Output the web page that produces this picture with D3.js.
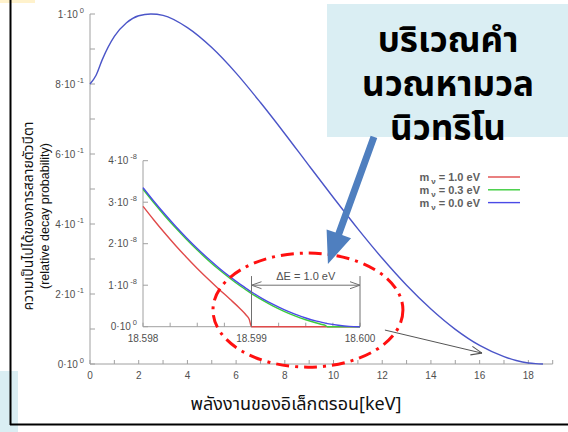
<!DOCTYPE html>
<html>
<head>
<meta charset="utf-8">
<script src="https://cdn.jsdelivr.net/npm/d3@7"></script>
<style>
  html, body { margin: 0; padding: 0; background: #fff; }
  svg { display: block; }
  .thai { font-family: 'Noto Sans Thai', 'Noto Sans Thai UI', 'Leelawadee UI', Tahoma, 'Noto Sans', sans-serif; }
  .num { font-family: 'Liberation Sans', Arial, sans-serif; }
</style>
</head>
<body>
<svg id="chart" width="568" height="432"></svg>
<script>
// ---- Tritium beta spectrum (relative decay probability vs electron energy) ----
const energyKeV = [0, 0.25, 0.5, 1, 1.5, 2, 2.5, 3, 4, 5, 6, 7, 8, 9, 10, 11, 12, 13, 14, 15, 16, 17, 17.5, 18, 18.3, 18.6];
const decayProb = [0.800, 0.825, 0.869, 0.936, 0.975, 0.995, 1.000, 0.996, 0.961, 0.904, 0.831, 0.747, 0.658, 0.566, 0.475, 0.386, 0.302, 0.225, 0.157, 0.099, 0.053, 0.021, 0.010, 0.003, 0.001, 0];

const xTicks = [0, 2, 4, 6, 8, 10, 12, 14, 16, 18];
const yTicks = [0, 0.2, 0.4, 0.6, 0.8, 1.0];
const yTickMantissa = ["0", "2", "4", "6", "8", "1"];
const yTickExponent = ["0", "-1", "-1", "-1", "-1", "0"];

// ---- Endpoint region (inset), rate in units of 1e-8 ----
const insetEnergyKeV = [18.5980, 18.5981, 18.5982, 18.5983, 18.5984, 18.5985, 18.5986, 18.5987, 18.5988, 18.5989, 18.59895, 18.59898,
  18.5990, 18.5991, 18.5992, 18.5993, 18.5994, 18.5995, 18.5996, 18.59965, 18.59968, 18.5997, 18.5998, 18.5999, 18.6000];
const rateM00 = [3.350, 3.023, 2.714, 2.420, 2.144, 1.884, 1.642, 1.415, 1.206, 1.013, 0.923, 0.871, 0.838, 0.678, 0.536, 0.410, 0.302, 0.209, 0.134, 0.103, 0.086, 0.075, 0.034, 0.008, 0];
const rateM03 = [3.312, 2.986, 2.675, 2.382, 2.106, 1.846, 1.603, 1.377, 1.168, 0.975, 0.885, 0.833, 0.799, 0.640, 0.497, 0.371, 0.261, 0.168, 0.089, 0.053, 0.030, 0, 0, 0, 0];
const rateM10 = [2.901, 2.571, 2.256, 1.957, 1.674, 1.404, 1.149, 0.904, 0.667, 0.422, 0.282, 0.172, 0, 0, 0, 0, 0, 0, 0, 0, 0, 0, 0, 0, 0];

const insetXTicks = [18.598, 18.599, 18.600];
const insetXLabels = ["18.598", "18.599", "18.600"];
const insetYTicks = [0, 1, 2, 3, 4];
const insetYMantissa = ["0", "1", "2", "3", "4"];
const insetYExponent = ["0", "-8", "-8", "-8", "-8"];

const seriesNames = ["1.0", "0.3", "0.0"];
const seriesColors = ["#e04a4a", "#3ccc3c", "#4a4ae6"];

const svg = d3.select("#chart");
const grey = "#a0a0a0";
const labelGrey = "#505050";

// background decorations
svg.append("rect").attr("x", 0).attr("y", 0).attr("width", 35).attr("height", 3).attr("fill", "#fff2cc");
svg.append("rect").attr("x", 0).attr("y", 371).attr("width", 18).attr("height", 61).attr("fill", "#daeef3");

// ---- main scales ----
const x = d3.scaleLinear().domain([0, 19]).range([90, 552.7]);
const y = d3.scaleLinear().domain([0, 1]).range([364, 14]);

// y axis (ticks pointing inward)
const gy = svg.append("g").attr("transform", `translate(${x(0)},0)`);
gy.append("line").attr("y1", y(0)).attr("y2", y(1)).attr("stroke", grey).attr("stroke-width", 1);
gy.selectAll("line.tk").data(d3.range(0, 1.0001, 0.1)).join("line").attr("class", "tk")
  .attr("x1", 0).attr("x2", 5).attr("y1", d => y(d)).attr("y2", d => y(d))
  .attr("stroke", grey);
const yl = svg.append("g").attr("class", "num");
yTicks.forEach((v, i) => {
  const t = yl.append("text").attr("x", 84).attr("y", y(v) + 3.5)
    .attr("text-anchor", "end").attr("font-size", 10).attr("fill", labelGrey);
  t.append("tspan").text(yTickMantissa[i] + "\u00b710");
  t.append("tspan").attr("dy", -5).attr("dx", 2).attr("font-size", 7.5).text(yTickExponent[i]);
});

// x axis (ticks pointing up)
const gx = svg.append("g");
gx.append("line").attr("x1", x(0)).attr("x2", x(19)).attr("y1", y(0)).attr("y2", y(0)).attr("stroke", grey);
gx.selectAll("line.tk").data(d3.range(0, 20, 1)).join("line").attr("class", "tk")
  .attr("x1", d => x(d)).attr("x2", d => x(d)).attr("y1", y(0)).attr("y2", y(0) - 4).attr("stroke", grey);
gx.selectAll("text").data(xTicks).join("text").attr("class", "num")
  .attr("x", d => x(d)).attr("y", y(0) + 15).attr("text-anchor", "middle")
  .attr("font-size", 10).attr("fill", labelGrey).text(d => d);

// main spectrum
svg.append("path").datum(energyKeV.map((e, i) => [e, decayProb[i]]))
  .attr("fill", "none").attr("stroke", "#4b55c8").attr("stroke-width", 1.4)
  .attr("d", d3.line().x(d => x(d[0])).y(d => y(d[1])).curve(d3.curveMonotoneX));

// ---- inset: endpoint region ----
const xi = d3.scaleLinear().domain([18.598, 18.600]).range([143, 360]);
const yi = d3.scaleLinear().domain([0, 4]).range([326.7, 160.7]);

const gi = svg.append("g");
gi.append("line").attr("x1", xi(18.598)).attr("x2", xi(18.598)).attr("y1", yi(0)).attr("y2", yi(4)).attr("stroke", grey);
gi.append("line").attr("x1", xi(18.598)).attr("x2", xi(18.600)).attr("y1", yi(0)).attr("y2", yi(0)).attr("stroke", grey);
gi.selectAll("line.ty").data(insetYTicks).join("line").attr("class", "ty")
  .attr("x1", xi(18.598)).attr("x2", xi(18.598) + 5).attr("y1", d => yi(d)).attr("y2", d => yi(d)).attr("stroke", grey);
gi.selectAll("line.tx").data(d3.range(0, 9).map(k => 18.598 + k * 0.00025)).join("line").attr("class", "tx")
  .attr("x1", d => xi(d)).attr("x2", d => xi(d)).attr("y1", yi(0)).attr("y2", yi(0) - 4).attr("stroke", grey);
insetYTicks.forEach((v, i) => {
  const t = gi.append("text").attr("class", "num").attr("x", 137).attr("y", yi(v) + 3.5)
    .attr("text-anchor", "end").attr("font-size", 10).attr("fill", labelGrey);
  t.append("tspan").text(insetYMantissa[i] + "\u00b710");
  t.append("tspan").attr("dy", -5).attr("dx", 2).attr("font-size", 7.5).text(insetYExponent[i]);
});
gi.selectAll("text.xl").data(insetXTicks).join("text").attr("class", "num xl")
  .attr("x", d => xi(d)).attr("y", yi(0) + 15).attr("text-anchor", "middle")
  .attr("font-size", 10).attr("fill", labelGrey).text((d, i) => insetXLabels[i]);

const insetLine = d3.line().x(d => xi(d[0])).y(d => yi(d[1])).curve(d3.curveMonotoneX);
[rateM10, rateM03, rateM00].forEach((rates, s) => {
  gi.append("path").datum(insetEnergyKeV.map((e, i) => [e, rates[i]]))
    .attr("fill", "none").attr("stroke", seriesColors[s]).attr("stroke-width", 1.4)
    .attr("d", insetLine);
});

// ΔE marker
const dm = svg.append("g");
const defs = svg.append("defs");
defs.append("marker").attr("id", "chev").attr("viewBox", "0 0 10 10").attr("refX", 10).attr("refY", 5)
  .attr("markerWidth", 10).attr("markerHeight", 10).attr("orient", "auto-start-reverse")
  .attr("markerUnits", "userSpaceOnUse")
  .append("path").attr("d", "M0,1.5 L10,5 L0,8.5").attr("fill", "none").attr("stroke", "#707070").attr("stroke-width", 1);
[18.599, 18.600].forEach(e => {
  dm.append("line").attr("x1", xi(e)).attr("x2", xi(e)).attr("y1", yi(0)).attr("y2", yi(1.22))
    .attr("stroke", "#707070").attr("stroke-width", 1);
});
dm.append("line").attr("x1", xi(18.599)).attr("x2", xi(18.600)).attr("y1", yi(1.0)).attr("y2", yi(1.0))
  .attr("stroke", "#707070").attr("stroke-width", 1)
  .attr("marker-start", "url(#chev)").attr("marker-end", "url(#chev)");
dm.append("text").attr("class", "num").attr("x", (xi(18.599) + xi(18.600)) / 2).attr("y", yi(1.12))
  .attr("text-anchor", "middle").attr("font-size", 11).attr("fill", labelGrey).text("\u0394E = 1.0 eV");

// legend
const lg = svg.append("g").attr("class", "num");
seriesNames.forEach((nm, i) => {
  const yy = 177 + i * 12.8;
  const t = lg.append("text").attr("x", 480).attr("y", yy + 4).attr("text-anchor", "end")
    .attr("font-size", 11).attr("font-weight", "bold").attr("fill", "#606060");
  t.append("tspan").text("m");
  t.append("tspan").attr("dy", 3).attr("dx", 2).attr("font-size", 8).text("\u03bd");
  t.append("tspan").attr("dy", -3).text(" = " + nm + " eV");
  lg.append("line").attr("x1", 488).attr("x2", 520).attr("y1", yy).attr("y2", yy)
    .attr("stroke", seriesColors[i]).attr("stroke-width", 1.4);
});

// red dash-dot ellipse around the endpoint
svg.append("ellipse").attr("cx", x(8.95)).attr("cy", y(0.154))
  .attr("rx", x(3.9) - x(0)).attr("ry", y(0) - y(0.163))
  .attr("fill", "none").attr("stroke", "#ff1010").attr("stroke-width", 3)
  .attr("stroke-dasharray", "13 6 3 6");

// grey pointer arrow
defs.append("marker").attr("id", "chev2").attr("viewBox", "0 0 10 10").attr("refX", 10).attr("refY", 5)
  .attr("markerWidth", 11).attr("markerHeight", 11).attr("orient", "auto")
  .attr("markerUnits", "userSpaceOnUse")
  .append("path").attr("d", "M0,1 L10,5 L0,9").attr("fill", "none").attr("stroke", "#555").attr("stroke-width", 1);
svg.append("line").attr("x1", x(12.11)).attr("y1", y(0.097)).attr("x2", x(16.1)).attr("y2", y(0.031))
  .attr("stroke", "#555").attr("stroke-width", 1).attr("marker-end", "url(#chev2)");

// callout box
svg.append("rect").attr("x", 327).attr("y", 4).attr("width", 241).attr("height", 133).attr("fill", "#daeef3");
const callout = ["บริเวณคำ", "นวณหามวล", "นิวทริโน"];
svg.selectAll("text.co").data(callout).join("text").attr("class", "thai co")
  .attr("x", 448).attr("y", (d, i) => 52 + i * 44).attr("text-anchor", "middle")
  .attr("font-size", 35).attr("font-weight", "bold").attr("fill", "#000").text(d => d);

// blue callout arrow
{
  const tail = [x(11.66), y(0.649)], tip = [x(9.77), y(0.286)];
  const dx = tip[0] - tail[0], dy = tip[1] - tail[1], L = Math.hypot(dx, dy);
  const ux = dx / L, uy = dy / L, px = -uy, py = ux;
  const headL = 32, headW = 13, shaftW = 3.5;
  const b = [tip[0] - ux * headL, tip[1] - uy * headL];
  const pts = [
    [tail[0] + px * shaftW, tail[1] + py * shaftW],
    [b[0] + px * shaftW, b[1] + py * shaftW],
    [b[0] + px * headW, b[1] + py * headW],
    tip,
    [b[0] - px * headW, b[1] - py * headW],
    [b[0] - px * shaftW, b[1] - py * shaftW],
    [tail[0] - px * shaftW, tail[1] - py * shaftW]
  ];
  svg.append("path").attr("d", d3.line()(pts) + "Z").attr("fill", "#4f7fbf");
}

// axis titles
svg.append("text").attr("class", "thai").attr("x", 296).attr("y", 410).attr("text-anchor", "middle")
  .attr("font-size", 18).attr("fill", "#111").text("พลังงานของอิเล็กตรอน[keV]");
const yt = svg.append("g").attr("transform", "translate(0,216) rotate(-90)");
yt.append("text").attr("class", "thai").attr("x", 0).attr("y", 33).attr("text-anchor", "middle")
  .attr("font-size", 14).attr("fill", "#111").text("ความเป็นไปได้ของการสลายตัวบีตา");
yt.append("text").attr("class", "num").attr("x", 0).attr("y", 49).attr("text-anchor", "middle")
  .attr("font-size", 12.5).attr("fill", "#111").text("(relative decay probability)");

// slide frame
svg.append("line").attr("x1", 10.5).attr("x2", 10.5).attr("y1", 0).attr("y2", 425).attr("stroke", "#000").attr("stroke-width", 2);
svg.append("line").attr("x1", 10).attr("x2", 568).attr("y1", 424.5).attr("y2", 424.5).attr("stroke", "#000").attr("stroke-width", 2);
</script>
</body>
</html>
